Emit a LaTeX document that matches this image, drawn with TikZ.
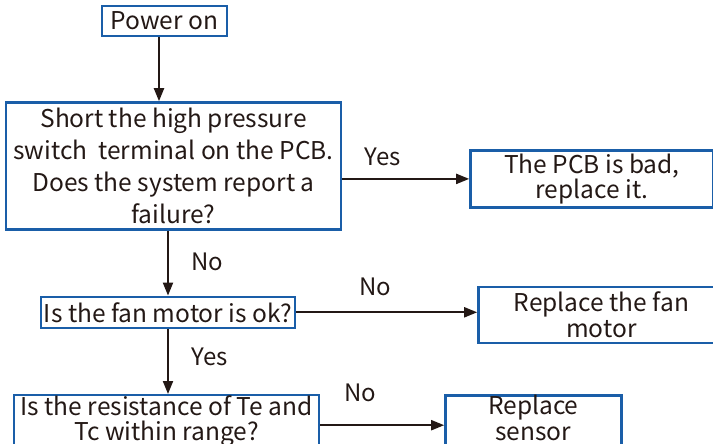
\documentclass[tikz,border=0pt]{standalone}
\usepackage{fontspec}
\setmainfont{Noto Sans CJK SC}
\definecolor{boxblue}{HTML}{1A5EA8}
\definecolor{inkdark}{HTML}{231815}
\usetikzlibrary{positioning,arrows.meta}

\begin{document}
\begin{tikzpicture}[
        node distance=60pt,
        every node/.style={text=inkdark},
        box/.style={draw=boxblue, line width=2.4pt, align=center,
                    inner sep=0pt, font=\fontsize{24.5}{26}\selectfont},
        lbl/.style={font=\fontsize{24}{28}\selectfont},
        arr/.style={-{Triangle[length=13pt, width=10pt]}, line width=2pt, color=inkdark}
      ]
        \useasboundingbox (0,0) rectangle (713pt,-444pt);

        \node[box, minimum width=125pt, minimum height=30pt] (pwr) at (164.5pt,-21pt) {Power on};
        \node[box, minimum width=335pt, minimum height=127pt,
              font=\fontsize{24.5}{32}\selectfont,
              below=64pt of pwr, xshift=9pt] (short)
              {Short the high pressure\\switch\ \ terminal on the PCB.\\Does the system report a\\failure?};
        \node[box, minimum width=243pt, minimum height=57pt,
              font=\fontsize{24.5}{24}\selectfont,
              right=127pt of short, yshift=-13pt] (pcb) {The PCB is bad,\\replace it.};
        \node[box, minimum width=254pt, minimum height=31pt,
              below=65pt of short, xshift=-5.5pt] (fan) {Is the fan motor is ok?};
        \node[box, minimum width=246pt, minimum height=56pt,
              right=181pt of fan, yshift=-2.5pt] (rfan) {Replace the fan\\motor};
        \node[box, minimum width=305pt, minimum height=60pt, text depth=14pt,
              font=\fontsize{24.5}{25}\selectfont,
              below=65pt of fan, xshift=-1.5pt] (res)
              {Is the resistance of Te and\\Tc within range?};
        \node[box, minimum width=176pt, minimum height=60pt, text depth=16pt,
              right=124pt of res, yshift=-1pt] (sensor) {Replace\\sensor};

        \draw[arr] ([xshift=-5.5pt]pwr.south) -- ([xshift=-5.5pt]pwr.south |- short.north);
        \draw[arr] (short.east |- pcb.west) -- (pcb.west);
        \draw[arr] (fan.north |- short.south) -- (fan.north);
        \draw[arr] (fan.east) -- (fan.east -| rfan.west);
        \draw[arr] (fan.south) -- (fan.south |- res.north);
        \draw[arr] (res.east) -- (res.east -| sensor.west);

        \node[lbl] (yes1) at (383pt,-157pt) {Yes};
        \node[lbl] (no1) at (207pt,-262pt) {No};
        \node[lbl] (no2) at (375pt,-287pt) {No};
        \node[lbl] (yes2) at (210pt,-357pt) {Yes};
        \node[lbl] (no3) at (360pt,-393pt) {No};
      \end{tikzpicture}
\end{document}
